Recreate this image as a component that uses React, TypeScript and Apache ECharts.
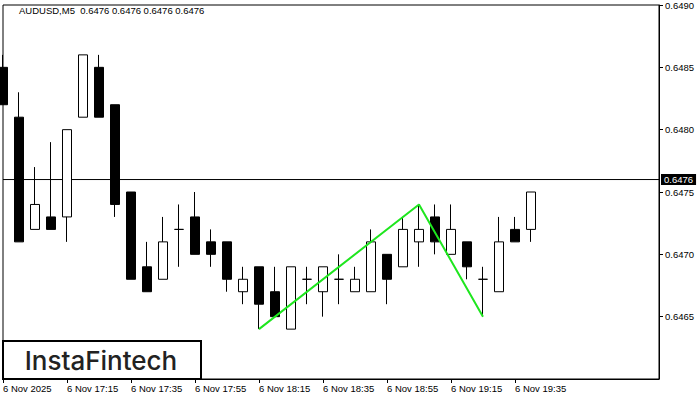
import React, { useEffect, useRef } from 'react';
import * as echarts from 'echarts';

// Time slots (5-minute bars), 6 Nov 2025
const categories = [
  '16:55', '17:00', '17:05', '17:10', '17:15', '17:20', '17:25', '17:30', '17:35', '17:40',
  '17:45', '17:50', '17:55', '18:00', '18:05', '18:10', '18:15', '18:20', '18:25', '18:30',
  '18:35', '18:40', '18:45', '18:50', '18:55', '19:00', '19:05', '19:10', '19:15', '19:20',
  '19:25', '19:30', '19:35', '19:40', '19:45', '19:50', '19:55', '20:00', '20:05', '20:10',
  '20:15', '20:20',
];

const opens = [
  0.6485, 0.6481, 0.6472, 0.6473, 0.6473, 0.6481, 0.6485, 0.6482, 0.6475, 0.6469,
  0.6468, 0.6472, 0.6473, 0.6471, 0.6471, 0.6467, 0.6469, 0.6467, 0.6464, 0.6468,
  0.6467, 0.6468, 0.6467, 0.6467, 0.6470, 0.6469, 0.6471, 0.6473, 0.6470, 0.6471,
  0.6468, 0.6467, 0.6472, 0.6472,
];
const closes = [
  0.6482, 0.6471, 0.6474, 0.6472, 0.6480, 0.6486, 0.6481, 0.6474, 0.6468, 0.6467,
  0.6471, 0.6472, 0.6470, 0.6470, 0.6468, 0.6468, 0.6466, 0.6465, 0.6469, 0.6468,
  0.6469, 0.6468, 0.6468, 0.6471, 0.6468, 0.6472, 0.6472, 0.6471, 0.6472, 0.6469,
  0.6468, 0.6471, 0.6471, 0.6475,
];
const lows = [
  0.6482, 0.6471, 0.6472, 0.6472, 0.6471, 0.6481, 0.6481, 0.6473, 0.6468, 0.6467,
  0.6468, 0.6469, 0.6470, 0.6469, 0.6467, 0.6466, 0.6464, 0.6465, 0.6464, 0.6466,
  0.6465, 0.6466, 0.6467, 0.6467, 0.6466, 0.6469, 0.6469, 0.6470, 0.6470, 0.6468,
  0.6465, 0.6467, 0.6471, 0.6471,
];
const highs = [
  0.6486, 0.6483, 0.6477, 0.6479, 0.6480, 0.6486, 0.6486, 0.6482, 0.6475, 0.6471,
  0.6473, 0.6474, 0.6475, 0.6472, 0.6471, 0.6469, 0.6469, 0.6469, 0.6469, 0.6469,
  0.6469, 0.6470, 0.6469, 0.6472, 0.6470, 0.6473, 0.6474, 0.6474, 0.6474, 0.6471,
  0.6469, 0.6473, 0.6473, 0.6475,
];

// Pattern (green zig-zag)
const patternTimes = ['18:15', '19:05', '19:25'];
const patternPrices = [0.6464, 0.6474, 0.6465];

const lastPrice = 0.6476;
const symbolName = 'AUDUSD,M5';
const datePrefix = '6 Nov ';
const firstDateLabel = '6 Nov 2025';
const logoText = 'InstaFintech';

const FONT = 'Liberation Sans, Arial, sans-serif';

export default function App() {
  const ref = useRef<HTMLDivElement>(null);

  useEffect(() => {
    const chart = echarts.init(ref.current!, null, { renderer: 'svg' });
    const candleData = opens.map((o, i) => [o, closes[i], lows[i], highs[i]]);
    const lineData = patternTimes.map((t, i) => [t, patternPrices[i]]);
    const priceLineData = [
      [categories[0], lastPrice],
      [categories[categories.length - 1], lastPrice],
    ];
    const tickShow = (idx: number) => idx % 4 === 0 && idx < opens.length;
    const p = lastPrice.toFixed(4);

    chart.setOption({
      animation: false,
      backgroundColor: '#fff',
      title: {
        text: `${symbolName}  ${p} ${p} ${p} ${p}`,
        left: 19,
        top: 5,
        padding: 0,
        textStyle: { fontSize: 9.5, fontWeight: 'normal', color: '#000', fontFamily: FONT },
      },
      grid: {
        left: 3,
        right: 41,
        top: 3.5,
        bottom: 21,
        show: true,
        borderColor: '#000',
        borderWidth: 1,
        backgroundColor: 'transparent',
      },
      xAxis: {
        type: 'category',
        data: categories,
        boundaryGap: false,
        axisLine: { show: true, lineStyle: { color: '#000', width: 1 } },
        axisTick: {
          show: true,
          interval: (idx: number) => tickShow(idx),
          length: 4,
          lineStyle: { color: '#000' },
        },
        axisLabel: {
          interval: (idx: number) => tickShow(idx),
          align: 'left',
          margin: 4,
          color: '#000',
          fontSize: 9.5,
          fontFamily: FONT,
          formatter: (v: string, idx: number) => (idx === 0 ? firstDateLabel : datePrefix + v),
        },
        splitLine: { show: false },
      },
      yAxis: {
        type: 'value',
        position: 'right',
        min: 0.646,
        max: 0.649,
        interval: 0.0005,
        axisLine: { show: true, lineStyle: { color: '#000' } },
        axisTick: { show: true, length: 4, lineStyle: { color: '#000' } },
        axisLabel: {
          showMinLabel: false,
          margin: 6,
          color: '#000',
          fontSize: 9.5,
          fontFamily: FONT,
          formatter: (v: number) => v.toFixed(4),
        },
        splitLine: { show: false },
      },
      series: [
        {
          type: 'line',
          data: priceLineData,
          symbol: 'none',
          z: 1,
          silent: true,
          lineStyle: { color: '#000', width: 1 },
          emphasis: { disabled: true },
          endLabel: {
            show: true,
            distance: 2,
            formatter: p,
            color: '#fff',
            backgroundColor: '#000',
            padding: [1, 3, 0, 3],
            fontSize: 9.5,
            fontFamily: FONT,
          },
        },
        {
          type: 'candlestick',
          data: candleData,
          barWidth: 10,
          clip: true,
          z: 2,
          itemStyle: {
            color: '#fff',
            color0: '#000',
            borderColor: '#000',
            borderColor0: '#000',
            borderColorDoji: '#000',
            borderWidth: 1,
          },
          emphasis: { disabled: true },
        },
        {
          type: 'line',
          data: lineData,
          symbol: 'none',
          z: 5,
          lineStyle: { color: '#1ee61e', width: 2 },
          emphasis: { disabled: true },
        },
      ],
      graphic: [
        {
          type: 'rect',
          z: 100,
          shape: { x: 3, y: 341, width: 198, height: 38 },
          style: { fill: '#fff', stroke: '#000', lineWidth: 2 },
        },
        {
          type: 'text',
          z: 101,
          x: 101,
          y: 360,
          style: {
            text: logoText,
            fill: '#222',
            font: '500 26px Inter, sans-serif',
            textAlign: 'center',
            textVerticalAlign: 'middle',
          },
        },
      ],
    });
    return () => chart.dispose();
  }, []);

  return (
    <div
      ref={ref}
      style={{ position: 'fixed', left: 0, top: 0, width: 700, height: 400 }}
    />
  );
}
